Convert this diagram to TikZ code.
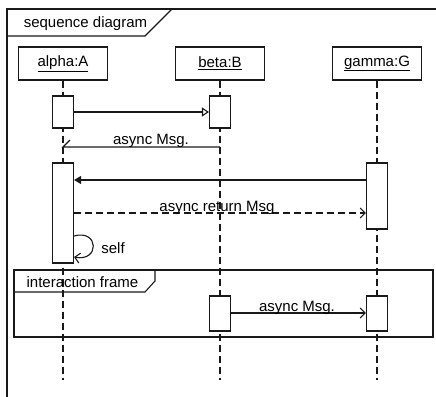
\documentclass[tikz,border=0pt]{standalone}
\usepackage{fontspec}
\setmainfont{Liberation Sans}
\usetikzlibrary{arrows.meta}
\begin{document}
\begin{tikzpicture}[x=1pt,y=-1pt,
  every node/.style={font=\fontsize{15}{18}\selectfont, inner sep=0pt},
  line/.style={draw=black!90, line width=1.1pt},
  head/.style={line, fill=white, minimum width=89pt, minimum height=33pt},
  act/.style={line, fill=white, minimum width=21pt},
  life/.style={draw=black!90, line width=1.1pt, dash pattern=on 7pt off 4pt},
  msg/.style={line},
  stick/.style={-{Straight Barb[length=5pt,width=10pt]}},
  opentri/.style={-{Triangle[open,length=7pt,width=9pt,fill=white]}},
  filltri/.style={-{Triangle[length=7pt,width=8pt]}},
  lbl/.style={anchor=base}
]
\useasboundingbox (0,0) rectangle (436,396);
% outer frame
\draw[line] (7,400) -- (7,9) -- (440,9);
\draw[line] (7,36) -- (145,36) -- (172,9);
\node[lbl] (sdlabel) at (85.5,27.5) {sequence diagram};

% heads
\node[head] (A) at (63,63.5) {\underline{alpha:A}};
\node[head] (B) at (220,63.5) {\underline{beta:B}};
\node[head] (G) at (377,63.5) {\underline{gamma:G}};

% lifeline ends
\coordinate (Aend) at (63,380);
\coordinate (Bend) at (220,380);
\coordinate (Gend) at (377,380);
\draw[life] (A.south) -- (Aend);
\draw[life] (B.south) -- (Bend);
\draw[life] (G.south) -- (Gend);

% interaction frame
\draw[line] (14,270) rectangle (433,337);
\draw[line] (14,292) -- (145,292) -- (155,281) -- (155,270);
\node[lbl] (iflabel) at (82.5,287) {interaction frame};

% activations
\node[act, minimum height=32pt] (a1) at (63,112) {};
\node[act, minimum height=32pt] (b1) at (220,112) {};
\node[act, minimum height=100pt] (a2) at (63,213) {};
\node[act, minimum height=66pt] (g1) at (377,196) {};
\node[act, minimum height=35pt] (b2) at (220,313.5) {};
\node[act, minimum height=35pt] (g2) at (377,313.5) {};

% message 1
\draw[msg, opentri] (a1.east) -- (b1.west);

% message 2 async Msg. (half arrow)
\coordinate (m2s) at (220,147);
\coordinate (m2e) at (63,147);
\draw[msg] (m2s) -- (m2e) -- ++(7,-7);
\node[lbl] (m2l) at (151,144) {async Msg.};

% message 3 filled
\draw[msg, filltri] (g1.west |- 0,180) -- (a2.east |- 0,180);

% message 4 dashed return
\draw[msg, dash pattern=on 7pt off 4pt, -{Straight Barb[length=5pt,width=10pt]}] (a2.east |- 0,213) -- (g1.west |- 0,213);
\node[lbl] (m4l) at (217,211) {async return Msg};

% self
\draw[msg, stick] (a2.east |- 0,236) .. controls (99,229) and (100,262) .. (a2.east |- 0,257);
\node (selfl) at (113,248) {self};

% message in frame
\draw[msg, stick] (b2.east |- 0,313) -- (g2.west |- 0,313);
\node[lbl] (m6l) at (297,311) {async Msg.};
\end{tikzpicture}
\end{document}
